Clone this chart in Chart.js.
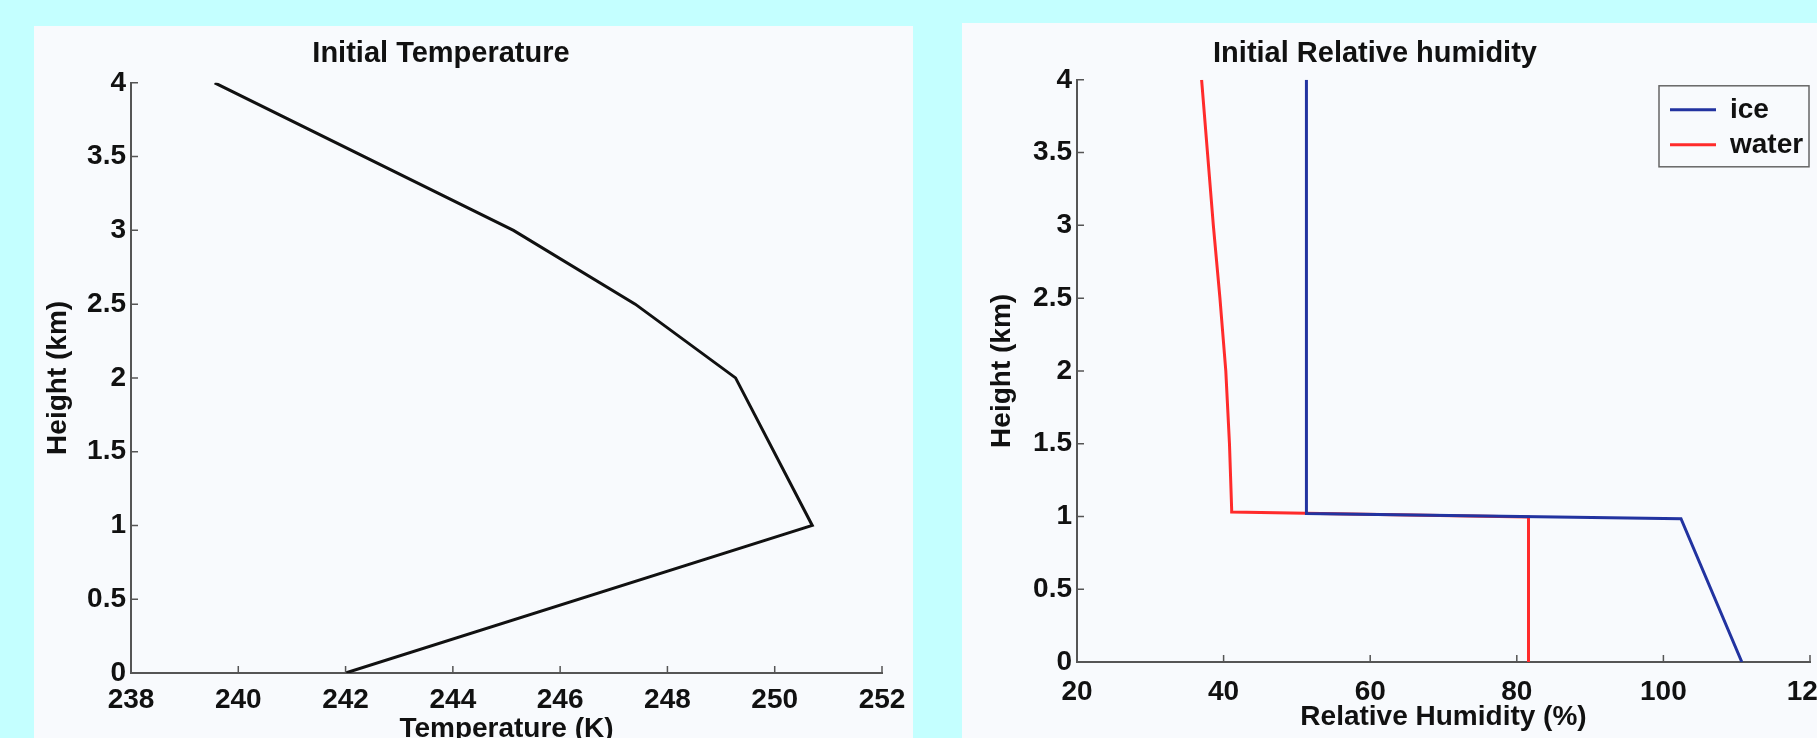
<!DOCTYPE html>
<html>
<head>
<meta charset="utf-8">
<title>Initial Temperature / Relative humidity</title>
<script src="https://cdn.jsdelivr.net/npm/chart.js@4.4.0/dist/chart.umd.min.js"></script>
<style>
    html, body { margin: 0; padding: 0; width: 1817px; height: 738px; overflow: hidden; background: #c4ffff; }
    .panel { position: absolute; background: #f8fafd; }
    #panel-temp { left: 34px; top: 26px; width: 879px; height: 712px; }
    #panel-rh { left: 962px; top: 23px; width: 855px; height: 715px; }
    canvas { position: absolute; top: 0; }
    #temp-chart { left: 0; }
    #rh-chart { left: 940px; }
</style>
</head>
<body>
<div class="panel" id="panel-temp"></div>
<div class="panel" id="panel-rh"></div>
<canvas id="temp-chart" width="940" height="780"></canvas>
<canvas id="rh-chart" width="940" height="780"></canvas>
<script>
// ─── Data ────────────────────────────────────────────────────────────
const tempHeight = [0, 1, 2, 2.5, 3, 4];                  // km
const tempK      = [242.0, 250.7, 249.27, 247.4, 245.13, 239.56];

const iceHeight  = [4, 1.02, 0.985, 0];
const iceRH      = [51.3, 51.3, 102.4, 110.7];

const waterHeight = [4, 3.5, 3, 2.5, 2, 1.5, 1.05, 1.03, 0.997, 0];
const waterRH     = [37.0, 37.8, 38.6, 39.5, 40.3, 40.8, 41.1, 41.1, 81.6, 81.6];

const tempTicks = { min: 238, max: 252, step: 2 };
const rhTicks   = { min: 20, max: 120, step: 20 };
const hTicks    = { min: 0, max: 4, step: 0.5 };

const FONT = "'Liberation Sans', Arial, Helvetica, sans-serif";
Chart.defaults.font.family = FONT;
Chart.defaults.color = '#111';

const toPoints = (xs, ys) => xs.map((x, i) => ({ x: x, y: ys[i] }));

// ─── Plugins ─────────────────────────────────────────────────────────
// MATLAB-style ticks pointing into the axes
const innerTicks = {
    id: 'innerTicks',
    afterDraw(chart) {
        const { ctx, chartArea, scales } = chart;
        ctx.save();
        ctx.strokeStyle = '#555';
        ctx.lineWidth = 1.5;
        ctx.beginPath();
        scales.x.ticks.forEach(t => {
            const px = scales.x.getPixelForValue(t.value);
            ctx.moveTo(px, chartArea.bottom);
            ctx.lineTo(px, chartArea.bottom - 7);
        });
        scales.y.ticks.forEach(t => {
            const py = scales.y.getPixelForValue(t.value);
            ctx.moveTo(chartArea.left, py);
            ctx.lineTo(chartArea.left + 7, py);
        });
        ctx.stroke();
        ctx.restore();
    }
};

// Move the legend to the top-right corner of the plot and box it
const legendInset = {
    id: 'legendInset',
    afterLayout(chart) {
        const lg = chart.legend;
        if (!lg) return;
        const a = chart.chartArea;
        lg.left = a.right - 147;
        lg.right = lg.left + lg.width;
        lg.top = a.top + 9;
        lg.bottom = lg.top + lg.height;
    },
    afterDraw(chart) {
        const { ctx, chartArea: a } = chart;
        ctx.save();
        ctx.strokeStyle = '#666';
        ctx.lineWidth = 1.5;
        ctx.strokeRect(a.right - 151, a.top + 6, 150, 81);
        ctx.restore();
    }
};

// ─── Shared option builder ───────────────────────────────────────────
function buildOptions(o) {
    const bold = size => ({ size: size, weight: 'bold' });
    return {
        responsive: false,
        maintainAspectRatio: false,
        animation: false,
        layout: { padding: { left: 0, right: o.padRight, top: 0, bottom: 0 } },
        plugins: {
            title: {
                display: true,
                text: o.title,
                color: '#111',
                font: bold(29),
                padding: { top: o.titleTop, bottom: o.titleBottom }
            },
            legend: o.legend || { display: false },
            tooltip: { enabled: false }
        },
        scales: {
            x: {
                type: 'linear',
                position: 'bottom',
                min: o.xt.min,
                max: o.xt.max,
                ticks: { stepSize: o.xt.step, padding: o.xTickPad, font: bold(28), maxRotation: 0, autoSkip: false, color: '#111' },
                grid: { display: false, drawTicks: false },
                border: { display: true, color: '#555', width: 2 },
                title: { display: true, text: o.xTitle, color: '#111', font: bold(28), padding: { top: 0, bottom: o.xTitlePad } },
                afterFit: s => { s.height = o.xHeight; }
            },
            y: {
                type: 'linear',
                position: 'left',
                min: hTicks.min,
                max: hTicks.max,
                ticks: { stepSize: hTicks.step, padding: 5, font: bold(28), autoSkip: false, color: '#111', callback: v => String(v) },
                grid: { display: false, drawTicks: false },
                border: { display: true, color: '#555', width: 2 },
                title: { display: true, text: 'Height (km)', color: '#111', font: bold(28), padding: { top: o.yTitlePad, bottom: 0 } },
                afterFit: s => { s.width = o.yWidth; }
            }
        }
    };
}

// ─── Initial Temperature ─────────────────────────────────────────────
new Chart(document.getElementById('temp-chart'), {
    type: 'scatter',
    data: {
        datasets: [{
            label: 'Temperature',
            data: toPoints(tempK, tempHeight),
            showLine: true,
            borderColor: '#111',
            backgroundColor: '#111',
            borderWidth: 3,
            pointRadius: 0,
            tension: 0
        }]
    },
    options: buildOptions({
        title: 'Initial Temperature',
        titleTop: 37, titleBottom: 11,
        xt: tempTicks,
        xTitle: 'Temperature (K)',
        xTickPad: 10, xTitlePad: 34, xHeight: 107,
        yWidth: 131, yTitlePad: 41,
        padRight: 58
    }),
    plugins: [innerTicks]
});

// ─── Initial Relative humidity ───────────────────────────────────────
new Chart(document.getElementById('rh-chart'), {
    type: 'scatter',
    data: {
        datasets: [{
            label: 'ice',
            data: toPoints(iceRH, iceHeight),
            showLine: true,
            borderColor: '#2233a0',
            backgroundColor: '#2233a0',
            borderWidth: 3,
            pointRadius: 0,
            tension: 0
        }, {
            label: 'water',
            data: toPoints(waterRH, waterHeight),
            showLine: true,
            borderColor: '#ff2b2b',
            backgroundColor: '#ff2b2b',
            borderWidth: 3,
            pointRadius: 0,
            tension: 0
        }]
    },
    options: buildOptions({
        title: 'Initial Relative humidity',
        titleTop: 37, titleBottom: 8,
        xt: rhTicks,
        xTitle: 'Relative Humidity (%)',
        xTickPad: 13, xTitlePad: 46, xHeight: 118,
        yWidth: 137, yTitlePad: 45,
        padRight: 70,
        legend: {
            display: true,
            position: 'chartArea',
            align: 'start',
            labels: {
                usePointStyle: true,
                pointStyle: 'line',
                pointStyleWidth: 46,
                padding: 7,
                color: '#111',
                font: { size: 28, weight: 'bold' }
            }
        }
    }),
    plugins: [innerTicks, legendInset]
});
</script>
</body>
</html>
